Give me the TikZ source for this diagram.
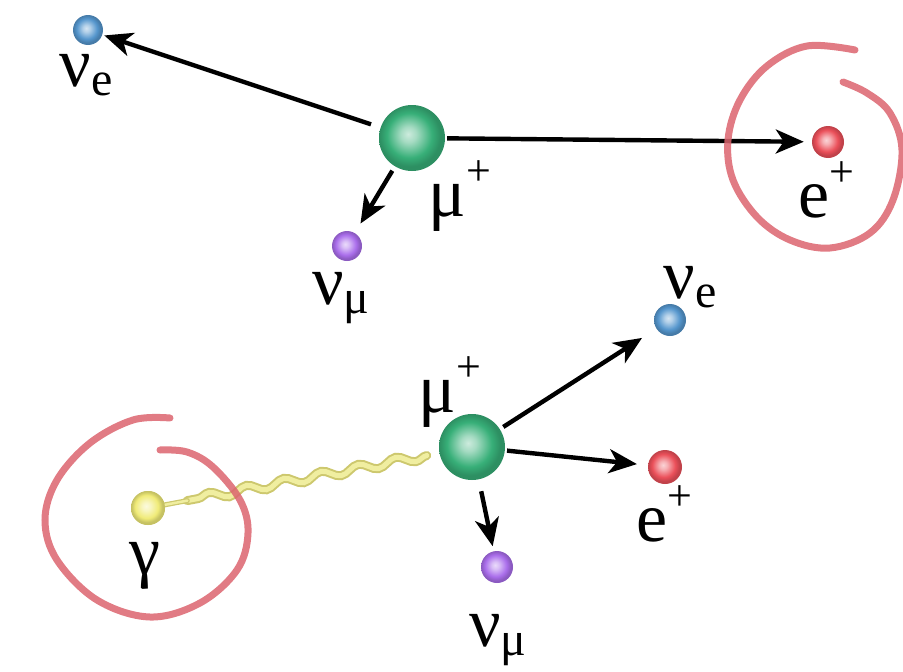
\documentclass[tikz,border=0pt]{standalone}
\usepackage{fontspec}
\setmainfont{Liberation Serif}
\usetikzlibrary{arrows.meta,decorations.pathmorphing,calc}
\definecolor{mugreen}{RGB}{55,175,120}
\definecolor{nueblue}{RGB}{85,150,205}
\definecolor{epred}{RGB}{235,80,90}
\definecolor{numpurple}{RGB}{170,110,235}
\definecolor{gamyellow}{RGB}{240,235,120}
\definecolor{ringred}{RGB}{220,100,110}
\definecolor{photonedge}{RGB}{205,200,110}
\definecolor{photonfill}{RGB}{240,238,160}
\colorlet{myballc}{mugreen}
\pgfdeclareradialshading[myballc]{softball}{\pgfqpoint{-3bp}{3bp}}{%
  color(0bp)=(myballc!25!white);
  color(6bp)=(myballc!45!white);
  color(17bp)=(myballc);
  color(23bp)=(myballc!82!black);
  color(50bp)=(myballc!82!black)}
\newcommand{\supplus}{\raisebox{0.45em}{\fontsize{44}{44}\selectfont +}}
\newcommand{\subtxt}[1]{\raisebox{-0.12em}{\fontsize{48}{48}\selectfont #1}}
\begin{document}
\begin{tikzpicture}[x=1pt,y=-1pt,
  ball/.style={circle,inner sep=0pt,/utils/exec={\colorlet{myballc}{#1}},shading=softball},
  arr/.style={line width=4.4pt,-{Stealth[length=28pt,width=24pt,inset=8pt]}},
  lab/.style={font=\fontsize{70}{70}\selectfont,inner sep=0pt,anchor=center},
  ring/.style={draw=ringred,line width=7pt,line cap=round,opacity=0.85},
  photon/.style={line cap=round,decorate,
    decoration={snake,amplitude=4pt,segment length=38pt}}]
\useasboundingbox (0,0) rectangle (903,672);

% ---------- top decay ----------
\node[ball=mugreen,minimum size=66pt] (mua) at (412,138) {};
\node[ball=nueblue,minimum size=30pt] (nuea) at (88,30) {};
\node[ball=epred,minimum size=32pt] (epa) at (828,142) {};
\node[ball=numpurple,minimum size=30pt] (numa) at (347,246) {};

\draw[arr,shorten <=10pt,shorten >=2pt] (mua) -- (nuea);
\draw[arr,shorten <=2pt,shorten >=8pt] (mua) -- (epa);
\draw[arr,shorten <=5pt,shorten >=11pt] (mua) -- (numa);

\node[lab] (lnuea) at (86,75) {ν\subtxt{e}};
\node[lab] (lmua) at (460,196) {μ\supplus};
\node[lab] (lepa) at (826,190) {e\supplus};
\node[lab] (lnuma) at (341,298) {ν\subtxt{μ}};

\draw[ring] plot[smooth,tension=0.6] coordinates {
  (855,50) (807,46) (767,66) (740,100) (728,140) (733,180) (757,217)
  (790,240) (830,248) (870,233) (893,200) (902,150) (890,113) (867,93) (843,82)};

% ---------- bottom decay ----------
\node[ball=mugreen,minimum size=66pt] (mub) at (472,447) {};
\node[ball=nueblue,minimum size=32pt] (nueb) at (670,320) {};
\node[ball=epred,minimum size=34pt] (epb) at (665,467) {};
\node[ball=numpurple,minimum size=32pt] (numb) at (497,567) {};
\node[ball=gamyellow,minimum size=34pt] (gam) at (148,508) {};

\draw[arr,shorten <=4pt,shorten >=17pt] (mub) -- (nueb);
\draw[arr,shorten <=2pt,shorten >=11pt] (mub) -- (epb);
\draw[arr,shorten <=12pt,shorten >=5pt] (mub) -- (numb);

\coordinate (pha) at ($(mub)!46pt!(gam)$);
\coordinate (phb) at ($(gam)!40pt!(mub)$);
\draw[photonedge,line width=9pt,photon] (pha) -- (phb);
\draw[photonfill,line width=5pt,photon] (pha) -- (phb);
\draw[photonedge,line width=5pt,line cap=round] (phb) -- (gam);
\draw[photonfill,line width=2.5pt,line cap=round] (phb) -- (gam);
\node[ball=gamyellow,minimum size=34pt] (gamtop) at (gam) {};

\node[lab] (lmub) at (450,392) {μ\supplus};
\node[lab] (lnueb) at (690,287) {ν\subtxt{e}};
\node[lab] (lepb) at (664,514) {e\supplus};
\node[lab] (lnumb) at (498,640) {ν\subtxt{μ}};
\node[lab] (lgam) at (145,566) {γ};

\draw[ring] plot[smooth,tension=0.6] coordinates {
  (170,418) (133,420) (90,443) (57,480) (45,520) (57,560) (97,600)
  (150,617) (200,603) (237,570) (248,533) (240,500) (213,467) (187,452) (160,450)};
\end{tikzpicture}
\end{document}
